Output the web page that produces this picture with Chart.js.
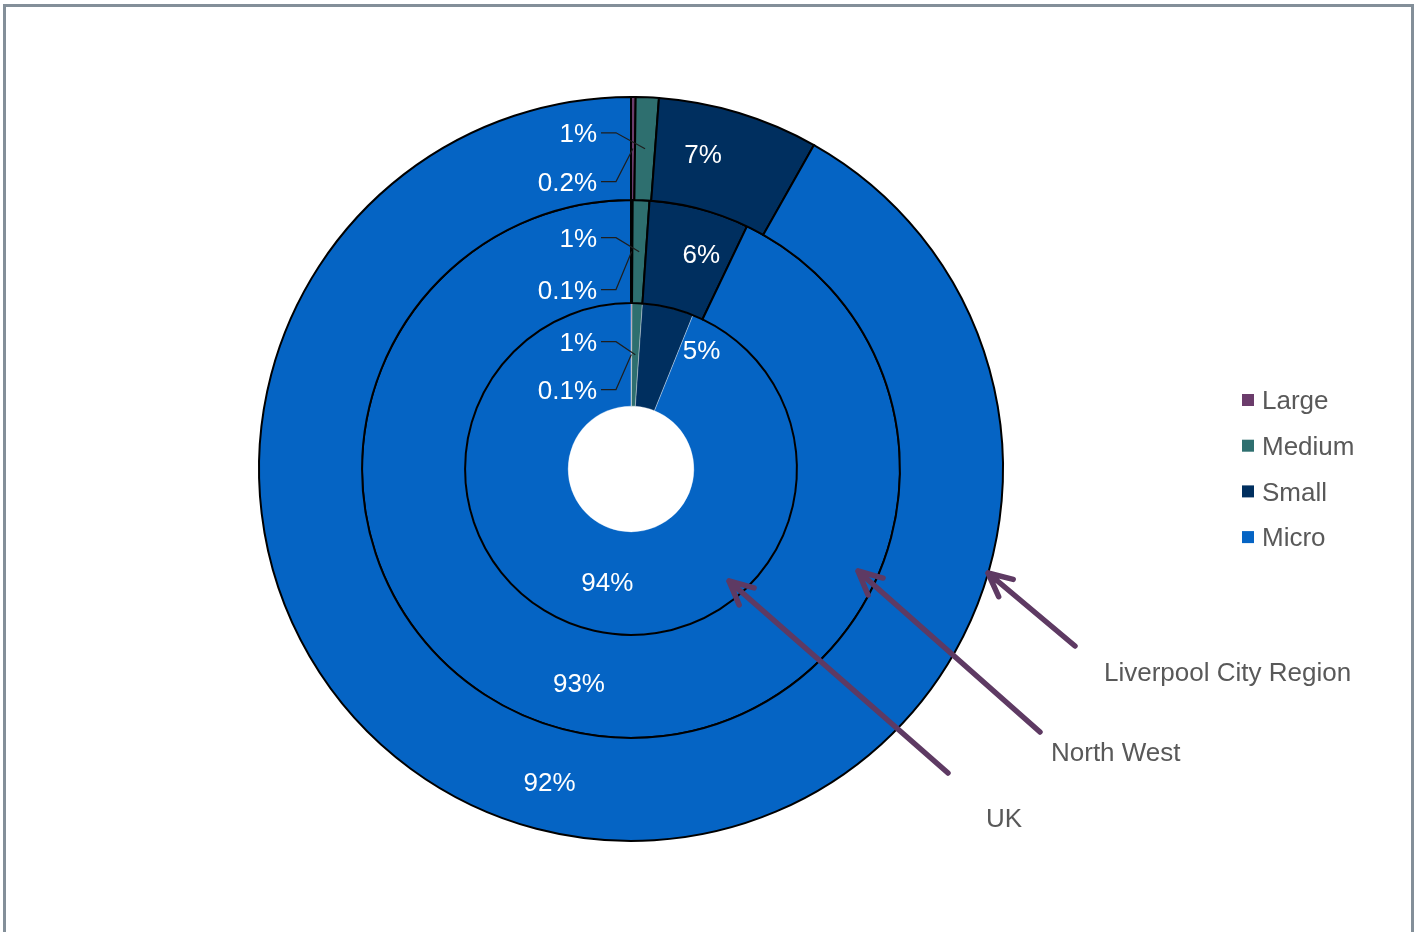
<!DOCTYPE html>
<html>
<head>
<meta charset="utf-8">
<title>Business size shares</title>
<script src="https://cdn.jsdelivr.net/npm/chart.js@4.4.1/dist/chart.umd.min.js"></script>
<style>
  html, body { margin: 0; padding: 0; background: #fff; overflow: hidden; }
  #wrap { position: relative; width: 1415px; height: 932px; }
  #frame { position: absolute; left: 3px; top: 4px; width: 1405px; height: 980px;
           border: 3px solid #838f99; border-bottom: none; }
  #chart { position: absolute; left: 0; top: 0; }
</style>
</head>
<body>
<div id="wrap">
  <div id="frame"></div>
  <canvas id="chart" width="1415" height="932"></canvas>
</div>
<script>
const sizes = ["Large", "Medium", "Small", "Micro"];
const areas = ["Liverpool City Region", "North West", "UK"];

// share of businesses by size band, %
const lcrShare = [0.2, 1, 7, 92];
const nwShare = [0.1, 1, 6, 93];
const ukShare = [0.1, 1, 5, 94];

const sizeColours = ["#6b3c6b", "#2e6f6f", "#002f5f", "#0564c4"];
const arrowColour = "#5e3a63";
const textGrey = "#595959";
const FONT = "26px 'Liberation Sans', Arial, sans-serif";

// label nudges (px) for the values drawn inside the ring: [small, micro]
const innerNudge = [
  [[-21, -7], [0, 5]],
  [[15, -3], [-4, 4]],
  [[45, -6], [-2, 3]]
];
// vertical offsets of the side labels from their slice: [large, medium]
const sideNudge = [[34, -15], [39, -13], [36, -12]];

// ring arrows: tip, tail and caption relative to the chart centre
const pointers = [
  { tip: [357, 104], tail: [444, 177], text: [473, 205] },
  { tip: [227, 102], tail: [409, 263], text: [420, 285] },
  { tip: [98, 112], tail: [317, 304], text: [355, 351] }
];

function fmt(v) {
  return v + "%";
}

const ringLabels = {
  id: "ringLabels",
  afterDatasetsDraw(chart) {
    const ctx = chart.ctx;
    const cx = (chart.chartArea.left + chart.chartArea.right) / 2;
    const cy = (chart.chartArea.top + chart.chartArea.bottom) / 2;
    ctx.save();
    ctx.font = FONT;
    ctx.textBaseline = "middle";

    chart.data.datasets.forEach((ds, di) => {
      const meta = chart.getDatasetMeta(di);
      meta.data.forEach((arc, i) => {
        const p = arc.getCenterPoint();
        if (i >= 2) {
          const n = innerNudge[di][i - 2];
          ctx.fillStyle = "#fff";
          ctx.textAlign = "center";
          ctx.fillText(fmt(ds.data[i]), p.x + n[0], p.y + n[1]);
        } else {
          // tiny slices get a label off to the left with a leader line
          const xr = cx - 34;
          const y = p.y + sideNudge[di][i];
          ctx.fillStyle = "#fff";
          ctx.textAlign = "right";
          ctx.fillText(fmt(ds.data[i]), xr, y + 1);
          ctx.strokeStyle = "#1e1e1e";
          ctx.lineWidth = 1.2;
          ctx.beginPath();
          ctx.moveTo(xr + 4, y - 1);
          ctx.lineTo(xr + 19, y - 1);
          ctx.lineTo(p.x, p.y);
          ctx.stroke();
        }
      });
    });

    // legend
    sizes.forEach((s, i) => {
      const y = cy - 69 + i * 45.7;
      ctx.fillStyle = sizeColours[i];
      ctx.fillRect(1242, y - 6, 12, 12);
      ctx.fillStyle = textGrey;
      ctx.textAlign = "left";
      ctx.fillText(s, 1262, y + 2);
    });

    // arrows pointing at each ring
    pointers.forEach((a, i) => {
      const tx = cx + a.tip[0], ty = cy + a.tip[1];
      const bx = cx + a.tail[0], by = cy + a.tail[1];
      const ang = Math.atan2(by - ty, bx - tx);
      const arm = 26, spread = 0.45;
      ctx.strokeStyle = arrowColour;
      ctx.lineWidth = 5.5;
      ctx.lineCap = "round";
      ctx.lineJoin = "round";
      ctx.beginPath();
      ctx.moveTo(bx, by);
      ctx.lineTo(tx, ty);
      ctx.moveTo(tx + arm * Math.cos(ang - spread), ty + arm * Math.sin(ang - spread));
      ctx.lineTo(tx, ty);
      ctx.lineTo(tx + arm * Math.cos(ang + spread), ty + arm * Math.sin(ang + spread));
      ctx.stroke();
      ctx.fillStyle = textGrey;
      ctx.textAlign = "left";
      ctx.fillText(areas[i], cx + a.text[0], cy + a.text[1]);
    });
    ctx.restore();
  }
};

const ctx = document.getElementById("chart").getContext("2d");

new Chart(ctx, {
  type: "doughnut",
  data: {
    labels: sizes,
    datasets: [
      { label: areas[0], data: lcrShare, backgroundColor: sizeColours,
        borderColor: "#000", borderWidth: 2, borderJoinStyle: "miter" },
      { label: areas[1], data: nwShare, backgroundColor: sizeColours,
        borderColor: "#000", borderWidth: 2, borderJoinStyle: "miter" },
      { label: areas[2], data: ukShare, backgroundColor: sizeColours,
        borderColor: "rgba(255,255,255,0.45)", borderWidth: 0.75 }
    ]
  },
  options: {
    responsive: false,
    animation: false,
    events: [],
    radius: 372,
    cutout: "16.9%",
    layout: { padding: { left: 0, right: 153, top: 6, bottom: 0 } },
    plugins: { legend: { display: false }, tooltip: { enabled: false } }
  },
  plugins: [ringLabels]
});
</script>
</body>
</html>
